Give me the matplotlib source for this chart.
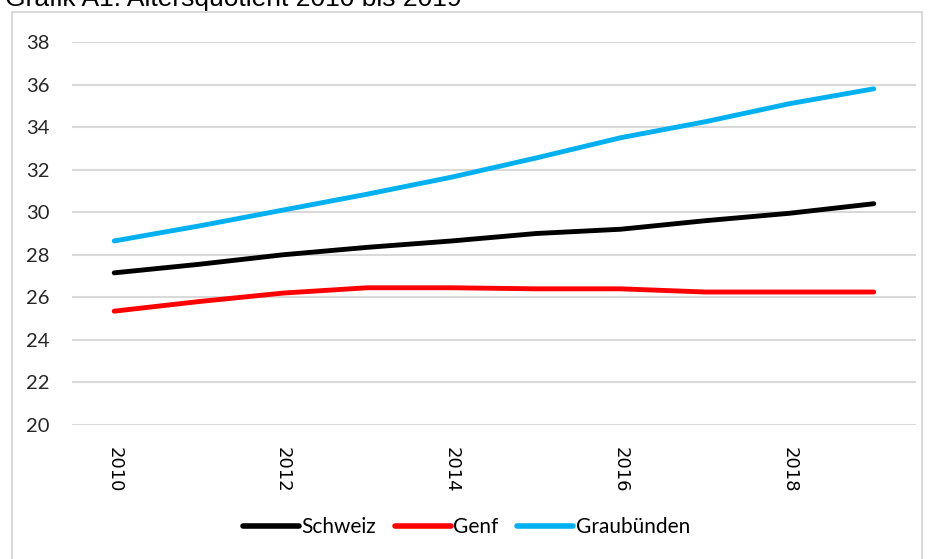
import matplotlib
matplotlib.use("Agg")
import matplotlib.pyplot as plt
from matplotlib.patches import Rectangle

years = [2010, 2011, 2012, 2013, 2014, 2015, 2016, 2017, 2018, 2019]
schweiz = [27.15, 27.55, 28.0, 28.35, 28.65, 29.0, 29.2, 29.6, 29.95, 30.4]
genf = [25.35, 25.8, 26.2, 26.45, 26.45, 26.4, 26.4, 26.25, 26.25, 26.25]
graubuenden = [28.65, 29.35, 30.1, 30.85, 31.65, 32.55, 33.5, 34.25, 35.1, 35.8]
y_ticks = [20, 22, 24, 26, 28, 30, 32, 34, 36, 38]
x_tick_years = [2010, 2012, 2014, 2016, 2018]

W, H = 933, 559
fig = plt.figure(figsize=(W / 100, H / 100), dpi=100)
fig.patch.set_facecolor("white")

# outer frame
fig.patches.append(Rectangle((12 / W, -0.05), (922 - 12) / W, 1.05 - 12 / H,
                             transform=fig.transFigure, fill=False,
                             edgecolor="#d9d9d9", linewidth=1.5))

fig.text(5 / W, 1 - 6 / H, "Grafik A1: Altersquotient 2010 bis 2019",
         fontsize=19, family="Liberation Sans", va="baseline", ha="left")

ax = fig.add_axes([72 / W, 1 - 425 / H, (916 - 72) / W, (425 - 42) / H])
x = list(range(len(years)))
ax.plot(x, schweiz, color="black", lw=3.5, solid_capstyle="round", label="Schweiz")
ax.plot(x, genf, color="#ff0000", lw=3.5, solid_capstyle="round", label="Genf")
ax.plot(x, graubuenden, color="#00b0f0", lw=3.5, solid_capstyle="round", label="Graubünden")

ax.set_xlim(-0.5, len(years) - 0.5)
ax.set_ylim(20, 38)
ax.set_yticks(y_ticks)
ax.set_yticklabels([str(v) for v in y_ticks], fontsize=14.5, family="Lato", color="#262626")
ax.set_xticks([years.index(y) for y in x_tick_years])
ax.set_xticklabels([str(y) for y in x_tick_years], rotation=-90, fontsize=13,
                   family="DejaVu Sans", va="top", ha="center")
ax.tick_params(axis="both", length=0)
ax.tick_params(axis="y", pad=16)
ax.tick_params(axis="x", pad=16)
ax.grid(axis="y", color="#d9d9d9", lw=1.5)
ax.set_axisbelow(True)
for s in ax.spines.values():
    s.set_visible(False)

leg = fig.legend(loc="center", bbox_to_anchor=(0.5, 1 - 527 / H), ncol=3,
                 frameon=False, prop={"family": "Lato", "size": 15},
                 handlelength=2.7, handletextpad=0.1, columnspacing=0.9)
for line in leg.get_lines():
    line.set_linewidth(4)

fig.savefig("out.png", dpi=100)
